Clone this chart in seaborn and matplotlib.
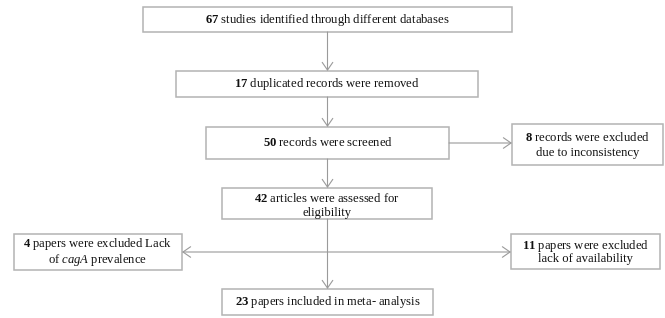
import matplotlib
matplotlib.use("Agg")
import matplotlib.pyplot as plt
from matplotlib.patches import Rectangle
import seaborn as sns

# ---- data (flowchart content) ----
counts = ["67", "17", "50", "8", "42", "4", "11", "23"]
phrases = [
    " studies identified through different databases",
    " duplicated records were removed",
    " records were screened",
    " records were excluded\ndue to inconsistency",
    " articles were assessed for\neligibility",
    " papers were excluded Lack\nof $\\mathit{cagA}$ prevalence",
    " papers were excluded\nlack of availability",
    " papers included in meta- analysis",
]

# ---- layout (pixel coordinates: x0, x1, y0, y1) ----
boxes = [
    (143, 512, 7, 32),
    (176, 478, 71, 97),
    (206, 449, 127, 159),
    (512, 663, 124, 165),
    (222, 432, 188, 219),
    (14, 182, 234, 270),
    (511, 660, 234, 269),
    (222, 433, 289, 315),
]
line_sp = [1.2, 1.2, 1.2, 1.27, 1.27, 0.92, 0.95, 1.2]
text_dy = [0.5, 0, 0, 0.5, 2.0, 0, 0, 0]

arrows = [  # (x_start, y_start, x_end, y_end, style)
    (327.5, 32, 327.5, 71, "->"),
    (327.5, 97, 327.5, 127, "->"),
    (327.5, 159, 327.5, 188, "->"),
    (327.5, 219, 327.5, 289, "->"),
    (449, 143, 512, 143, "->"),
    (182, 252, 511, 252, "<->"),
]

sns.set_theme(style="white")
plt.rcParams["font.family"] = ["Liberation Serif", "DejaVu Serif"]
plt.rcParams["mathtext.fontset"] = "custom"
plt.rcParams["mathtext.rm"] = "Liberation Serif"
plt.rcParams["mathtext.bf"] = "Liberation Serif:bold"
plt.rcParams["mathtext.it"] = "Liberation Serif:italic"

fig = plt.figure(figsize=(6.65, 3.18), dpi=100)
ax = fig.add_axes([0, 0, 1, 1])
ax.set_xlim(0, 665)
ax.set_ylim(318, 0)
ax.axis("off")
sns.despine(ax=ax, left=True, bottom=True)

edge_col = "#b3b3b3"
arrow_col = "#9a9a9a"

for (x0, x1, y0, y1), n, ph, ls, dy in zip(boxes, counts, phrases, line_sp, text_dy):
    ax.add_patch(Rectangle((x0, y0), x1 - x0, y1 - y0, fill=False,
                           edgecolor=edge_col, linewidth=1.1))
    label = "$\\mathbf{" + n + "}$" + ph
    ax.text((x0 + x1) / 2, (y0 + y1) / 2 + dy, label, ha="center", va="center",
            fontsize=9.1, color="#111111", linespacing=ls, multialignment="center")

for xs, ys, xe, ye, st in arrows:
    ax.annotate("", xy=(xe, ye), xytext=(xs, ys),
                arrowprops=dict(arrowstyle=st + ",head_length=0.55,head_width=0.38",
                                color=arrow_col, lw=0.8, shrinkA=0, shrinkB=0,
                                mutation_scale=10))

fig.savefig("out.png", dpi=100, facecolor="white")
